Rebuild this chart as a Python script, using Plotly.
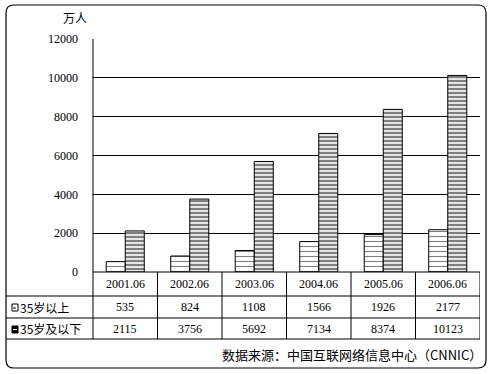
import plotly.graph_objects as go

categories = ["2001.06", "2002.06", "2003.06", "2004.06", "2005.06", "2006.06"]
over35 = [535, 824, 1108, 1566, 1926, 2177]
under35 = [2115, 3756, 5692, 7134, 8374, 10123]
series_names = ["35岁以上", "35岁及以下"]
y_ticks = [0, 2000, 4000, 6000, 8000, 10000, 12000]
unit_label = "万人"
source_text = "数据来源：中国互联网络信息中心（CNNIC）"

W, H = 493, 374
L, R, T, B = 93, 13, 39, 102
PW, PH = W - L - R, H - T - B

def px(x):
    return (x - L) / PW

def py(y):
    return (H - B - y) / PH

FONT = "Liberation Serif, Noto Sans CJK SC, serif"
CJK = "Noto Sans CJK SC, sans-serif"

xs = list(range(len(categories)))

fig = go.Figure()
fig.add_trace(go.Bar(
    x=xs, y=over35, name=series_names[0],
    marker=dict(color="white", line=dict(color="black", width=1),
                pattern=dict(shape="-", fgcolor="black", bgcolor="white", size=5, solidity=0.22)),
))
fig.add_trace(go.Bar(
    x=xs, y=under35, name=series_names[1],
    marker=dict(color="white", line=dict(color="black", width=1),
                pattern=dict(shape="-", fgcolor="black", bgcolor="white", size=4, solidity=0.6)),
))

shapes = []
# rounded frame
x0, x1, y0, y1, r = px(6), px(486), py(5), py(368), 8
rx, ry = r / PW, r / PH
path = (f"M {x0+rx},{y0} L {x1-rx},{y0} Q {x1},{y0} {x1},{y0-ry} "
        f"L {x1},{y1+ry} Q {x1},{y1} {x1-rx},{y1} "
        f"L {x0+rx},{y1} Q {x0},{y1} {x0},{y1+ry} "
        f"L {x0},{y0-ry} Q {x0},{y0} {x0+rx},{y0} Z")
shapes.append(dict(type="path", path=path, xref="paper", yref="paper",
                   line=dict(color="black", width=1.2), layer="below"))

row_y = [272, 296, 318, 339]
# horizontal table lines
shapes.append(dict(type="line", xref="paper", yref="paper", x0=0, x1=1, y0=py(272), y1=py(272),
                   line=dict(color="black", width=1)))
for yy in row_y[1:]:
    shapes.append(dict(type="line", xref="paper", yref="paper", x0=px(6), x1=1, y0=py(yy), y1=py(yy),
                       line=dict(color="black", width=1)))
# vertical table lines
shapes.append(dict(type="line", xref="paper", yref="paper", x0=0, x1=0, y0=1, y1=py(339),
                   line=dict(color="black", width=1)))
for i in range(len(categories)):
    shapes.append(dict(type="line", xref="x", yref="paper", x0=i + 0.5, x1=i + 0.5,
                       y0=py(272), y1=py(339), line=dict(color="black", width=1)))

# legend keys
shapes.append(dict(type="rect", xref="paper", yref="paper", x0=px(12), x1=px(18), y0=py(304), y1=py(311),
                   line=dict(color="black", width=1), fillcolor="white"))
shapes.append(dict(type="line", xref="paper", yref="paper", x0=px(13), x1=px(17), y0=py(308), y1=py(308),
                   line=dict(color="black", width=1, dash="dot")))
shapes.append(dict(type="rect", xref="paper", yref="paper", x0=px(12), x1=px(18), y0=py(326), y1=py(333),
                   line=dict(color="black", width=1), fillcolor="black"))
shapes.append(dict(type="line", xref="paper", yref="paper", x0=px(13), x1=px(17), y0=py(329.5), y1=py(329.5),
                   line=dict(color="white", width=1)))

ann = []
mid = lambda a, b: py((a + b) / 2)
for i, c in enumerate(categories):
    ann.append(dict(x=i, y=mid(272, 296), xref="x", yref="paper", text=c, showarrow=False,
                    yanchor="middle", font=dict(family=FONT, size=12, color="black")))
    ann.append(dict(x=i, y=mid(296, 318), xref="x", yref="paper", text=str(over35[i]), showarrow=False,
                    yanchor="middle", font=dict(family=FONT, size=12, color="black")))
    ann.append(dict(x=i, y=mid(318, 339), xref="x", yref="paper", text=str(under35[i]), showarrow=False,
                    yanchor="middle", font=dict(family=FONT, size=12, color="black")))
for name, (a, b) in zip(series_names, [(296, 318), (318, 339)]):
    ann.append(dict(x=px(18), y=mid(a, b), xref="paper", yref="paper", text=name, showarrow=False,
                    xanchor="left", yanchor="middle", font=dict(family=CJK, size=12, color="black")))
ann.append(dict(x=px(61), y=py(17), xref="paper", yref="paper", text=unit_label, showarrow=False,
                yanchor="middle", font=dict(family=CJK, size=12, color="black")))
ann.append(dict(x=px(484), y=py(355), xref="paper", yref="paper", text=source_text, showarrow=False,
                xanchor="right", yanchor="middle", font=dict(family=CJK, size=13, color="black")))

fig.update_layout(
    width=W, height=H,
    margin=dict(l=L, r=R, t=T, b=B, pad=0),
    paper_bgcolor="white", plot_bgcolor="white",
    barmode="group", bargap=0.41, bargroupgap=0,
    showlegend=False,
    shapes=shapes, annotations=ann,
    xaxis=dict(range=[-0.5, len(categories) - 0.5], showticklabels=False, showgrid=False,
               zeroline=False, ticks="", showline=False, fixedrange=True),
    yaxis=dict(range=[0, 12000], tickvals=y_ticks, tickformat="d", showgrid=True, gridcolor="black",
               gridwidth=1, zeroline=False, showline=False, ticks="", ticklabelstandoff=14,
               tickfont=dict(family=FONT, size=12, color="black"), fixedrange=True),
)

fig.write_html("out.html", config={"displayModeBar": False},
               post_script="document.body.style.margin='0';document.body.style.overflow='hidden';")
